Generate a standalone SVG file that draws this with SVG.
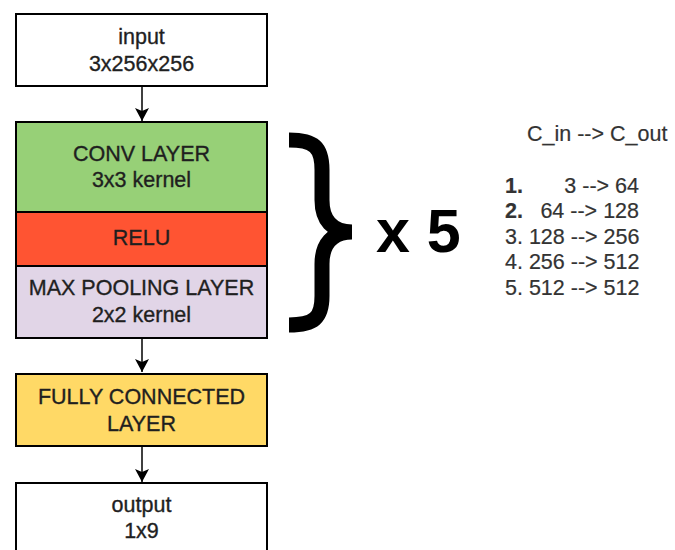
<svg xmlns="http://www.w3.org/2000/svg" width="675" height="550" viewBox="0 0 675 550">
  <style>
    .box { stroke: #000; stroke-width: 2; }
    .lbl { font-family: "Liberation Sans", Arial, sans-serif; font-size: 21.5px; fill: #1f1f1f; stroke: #1f1f1f; stroke-width: 0.35; text-anchor: middle; }
    .note { font-family: "Liberation Sans", Arial, sans-serif; font-size: 21.5px; fill: #333; stroke: #333; stroke-width: 0.2; }
    .link { stroke: #000; stroke-width: 1.5; fill: none; }
  </style>
  <defs>
    <marker id="arrow" markerUnits="userSpaceOnUse" markerWidth="14" markerHeight="14" viewBox="0 0 14 14" refX="13" refY="7" orient="auto">
      <path d="M0,0 L13,7 L0,14 L3,7 Z" fill="#000"/>
    </marker>
  </defs>
  <rect width="675" height="550" fill="#fff"/>

  <!-- connectors -->
  <g id="connectors">
    <line class="link" x1="142" y1="86" x2="142" y2="121" marker-end="url(#arrow)"/>
    <line class="link" x1="142" y1="338" x2="142" y2="372" marker-end="url(#arrow)"/>
    <line class="link" x1="142" y1="446" x2="142" y2="482" marker-end="url(#arrow)"/>
  </g>

  <g id="input">
    <rect class="box" x="16" y="14" width="251" height="72" fill="#fff"/>
    <text class="lbl" x="141.5" y="44">input</text>
    <text class="lbl" x="141.5" y="71">3x256x256</text>
  </g>

  <g id="conv">
    <rect class="box" x="16" y="122" width="251" height="90" fill="#97D077"/>
    <text class="lbl" x="141.5" y="161">CONV LAYER</text>
    <text class="lbl" x="141.5" y="187">3x3 kernel</text>
  </g>

  <g id="relu">
    <rect class="box" x="16" y="212" width="251" height="54" fill="#FF5432"/>
    <text class="lbl" x="141.5" y="245">RELU</text>
  </g>

  <g id="maxpool">
    <rect class="box" x="16" y="266" width="251" height="72" fill="#E1D5E7"/>
    <text class="lbl" x="141.5" y="295">MAX POOLING LAYER</text>
    <text class="lbl" x="141.5" y="322">2x2 kernel</text>
  </g>

  <g id="fc">
    <rect class="box" x="16" y="374" width="251" height="72" fill="#FFD966"/>
    <text class="lbl" x="141.5" y="404">FULLY CONNECTED</text>
    <text class="lbl" x="141.5" y="431">LAYER</text>
  </g>

  <g id="output">
    <rect class="box" x="16" y="483" width="251" height="80" fill="#fff"/>
    <text class="lbl" x="141.5" y="512">output</text>
    <text class="lbl" x="141.5" y="538">1x9</text>
  </g>

  <!-- repeat brace around the conv / relu / pooling block -->
  <g id="repeat">
    <path d="M289,140 C314,140 322,147 322,170 L322,200 C322,220 332,232 352,232 C332,232 322,244 322,264 L322,296 C322,318 314,325 289,325"
          fill="none" stroke="#000" stroke-width="15" stroke-linejoin="bevel"/>
    <text x="376" y="252" font-family="Liberation Sans, Arial, sans-serif" font-size="61" font-weight="bold" fill="#000">x 5</text>
  </g>

  <!-- channel table -->
  <g id="channels">
    <text class="note" x="527" y="141" font-size="22.5">C_in --&gt; C_out</text>
    <text class="note" x="505" y="193" font-weight="bold">1.</text>
    <text class="note" x="639" y="193" text-anchor="end">3 --&gt; 64</text>
    <text class="note" x="505" y="218" font-weight="bold">2.</text>
    <text class="note" x="639" y="218" text-anchor="end">64 --&gt; 128</text>
    <text class="note" x="505" y="243.5">3. 128 --&gt; 256</text>
    <text class="note" x="505" y="269">4. 256 --&gt; 512</text>
    <text class="note" x="505" y="294.5">5. 512 --&gt; 512</text>
  </g>
</svg>
